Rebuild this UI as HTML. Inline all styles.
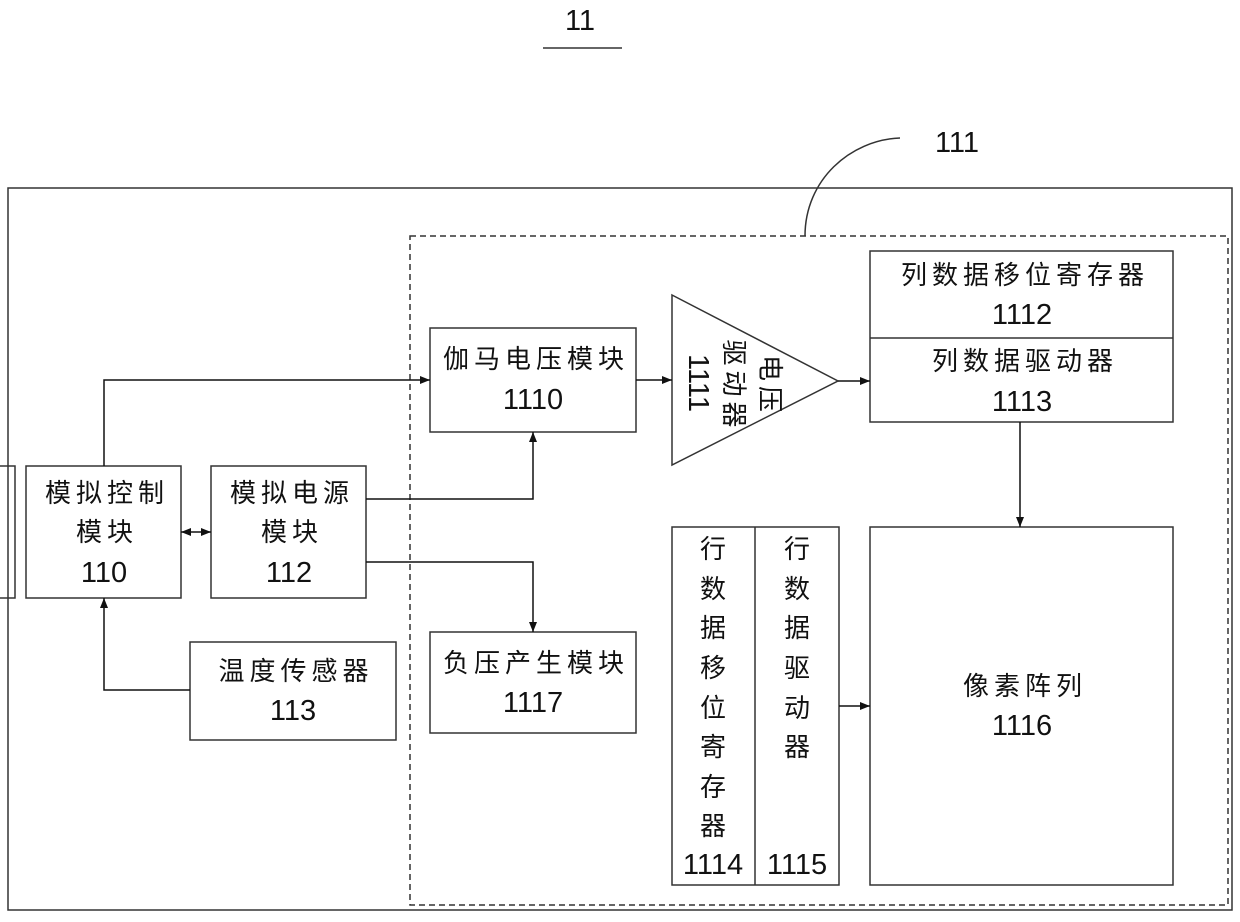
<!DOCTYPE html>
<html><head><meta charset="utf-8"><style>
body{margin:0;background:#fff}
svg text{font-family:"Liberation Sans","Noto Sans CJK SC",sans-serif;fill:#111}
.c{font-size:26px;letter-spacing:5px}
.n{font-size:29px}
.v{font-size:26px}
</style></head><body>
<svg width="1240" height="917" viewBox="0 0 1240 917" xmlns="http://www.w3.org/2000/svg">
<defs><marker id="a" markerWidth="10" markerHeight="8" refX="10" refY="4" orient="auto" markerUnits="userSpaceOnUse"><path d="M0,0 L10,4 L0,8z" fill="#111"/></marker></defs>
<g fill="none" stroke="#333" stroke-width="1.5">
<rect x="8" y="188" width="1224" height="722"/>
<rect x="410" y="236" width="818" height="669" stroke-dasharray="6,4"/>
<rect x="-2" y="466" width="17" height="132"/>
<rect x="26" y="466" width="155" height="132"/>
<rect x="211" y="466" width="155" height="132"/>
<rect x="190" y="642" width="206" height="98"/>
<rect x="430" y="328" width="206" height="104"/>
<rect x="430" y="632" width="206" height="101"/>
<path d="M672,295 L838,381 L672,465z"/>
<rect x="870" y="251" width="303" height="171"/>
<line x1="870" y1="338" x2="1173" y2="338"/>
<rect x="870" y="527" width="303" height="358"/>
<rect x="672" y="527" width="167" height="358"/>
<line x1="755" y1="527" x2="755" y2="885"/>
<path d="M805,236 C805,180 850,140 900,138"/>
<line x1="543" y1="48" x2="622" y2="48"/>
</g>
<g fill="none" stroke="#111" stroke-width="1.5" marker-end="url(#a)">
<path d="M104,466 V380 H430"/>
<path d="M366,499 H533 V432"/>
<path d="M366,562 H533 V632"/>
<path d="M190,690 H104 V598"/>
<path d="M196,532 H211"/>
<path d="M196,532 H181"/>
<path d="M636,380 H672"/>
<path d="M838,381 H870"/>
<path d="M1020,422 V527"/>
<path d="M839,706 H870"/>
</g>
<g text-anchor="middle">
<text class="n" x="580" y="30">11</text>
<text class="n" x="957" y="152">111</text>
<text class="c" x="107" y="502">模拟控制</text>
<text class="c" x="107" y="541">模块</text>
<text class="n" x="104" y="582">110</text>
<text class="c" x="292" y="502">模拟电源</text>
<text class="c" x="292" y="541">模块</text>
<text class="n" x="289" y="582">112</text>
<text class="c" x="296" y="680">温度传感器</text>
<text class="n" x="293" y="720">113</text>
<text class="c" x="536" y="368">伽马电压模块</text>
<text class="n" x="533" y="409">1110</text>
<text class="c" x="536" y="672">负压产生模块</text>
<text class="n" x="533" y="712">1117</text>
<text class="c" x="1025" y="284">列数据移位寄存器</text>
<text class="n" x="1022" y="324">1112</text>
<text class="c" x="1025" y="370">列数据驱动器</text>
<text class="n" x="1022" y="411">1113</text>
<text class="c" x="1025" y="695">像素阵列</text>
<text class="n" x="1022" y="735">1116</text>
<g transform="translate(735,383) rotate(90)">
<text class="c" x="3" y="-26">电压</text>
<text class="c" x="3" y="10">驱动器</text>
<text class="n" x="0" y="46">1111</text>
</g>
<text class="v" x="713" y="558">行</text>
<text class="v" x="713" y="598">数</text>
<text class="v" x="713" y="637">据</text>
<text class="v" x="713" y="677">移</text>
<text class="v" x="713" y="717">位</text>
<text class="v" x="713" y="756">寄</text>
<text class="v" x="713" y="796">存</text>
<text class="v" x="713" y="835">器</text>
<text class="v" x="797" y="558">行</text>
<text class="v" x="797" y="598">数</text>
<text class="v" x="797" y="637">据</text>
<text class="v" x="797" y="677">驱</text>
<text class="v" x="797" y="717">动</text>
<text class="v" x="797" y="756">器</text>
<text class="n" x="713" y="874">1114</text>
<text class="n" x="797" y="874">1115</text>
</g>
</svg>
</body></html>
